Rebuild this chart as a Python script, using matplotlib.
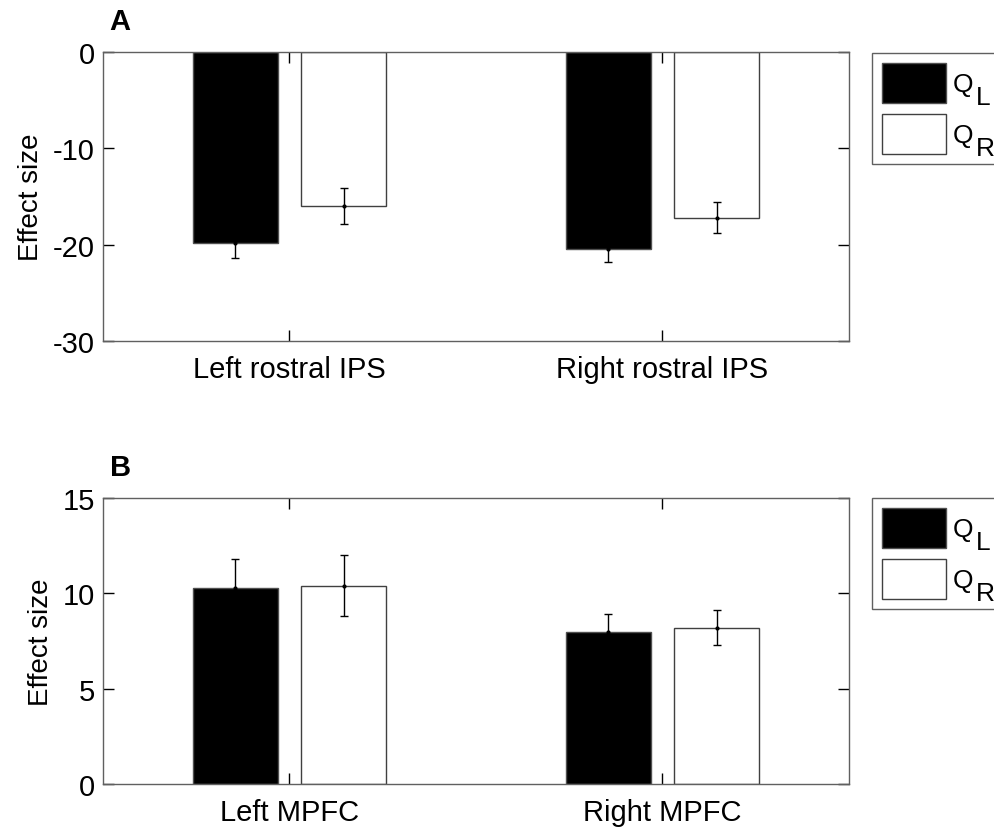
import matplotlib
matplotlib.use("Agg")
import matplotlib.pyplot as plt
from matplotlib.patches import Patch, Rectangle
import numpy as np

plt.rcParams['font.family'] = ['Liberation Sans', 'DejaVu Sans']
plt.rcParams['axes.unicode_minus'] = False

# ---- data ----
regions_a = ["Left rostral IPS", "Right rostral IPS"]
ql_a = [-19.8, -20.4]
ql_a_err = [1.6, 1.4]
qr_a = [-16.0, -17.2]
qr_a_err = [1.9, 1.6]

regions_b = ["Left MPFC", "Right MPFC"]
ql_b = [10.3, 7.95]
ql_b_err = [1.5, 0.96]
qr_b = [10.4, 8.2]
qr_b_err = [1.6, 0.9]

series_base = ['Q', 'Q']
series_sub = ['L', 'R']
yticks_a = [-30, -20, -10, 0]
yticks_b = [0, 5, 10, 15]

FS = 21
LFS = 19
SPINE = '#606060'

fig = plt.figure(figsize=(9.95, 8.29), dpi=100)
axA = fig.add_axes([103/995, 1-342/829, 746/995, 289/829])
axB = fig.add_axes([103/995, 1-785/829, 746/995, 286/829])

legends = []

def draw(ax, regions, ql, qle, qr, qre, ylim, yticks, letter, leg_top):
    x = np.arange(1, len(regions)+1)
    w = 0.23
    off = 0.145
    ax.bar(x-off, ql, w, color='black', edgecolor='#505050', linewidth=1, zorder=2)
    ax.bar(x+off, qr, w, color='white', edgecolor='#404040', linewidth=1, zorder=2)
    ax.errorbar(x-off, ql, yerr=qle, fmt='.', color='black', ecolor='black',
                markersize=4, elinewidth=1, capsize=3, capthick=1, zorder=3)
    ax.errorbar(x+off, qr, yerr=qre, fmt='.', color='black', ecolor='black',
                markersize=4, elinewidth=1, capsize=3, capthick=1, zorder=3)
    ax.set_xlim(0.5, 2.5)
    ax.set_ylim(*ylim)
    ax.set_yticks(yticks)
    ax.set_xticks(x)
    ax.set_xticklabels(regions)
    ax.tick_params(direction='in', length=8, width=1, colors='black',
                   labelsize=FS, top=True, right=True)
    ax.tick_params(axis='x', pad=10)
    ax.tick_params(axis='y', pad=6)
    for s in ax.spines.values():
        s.set_color(SPINE)
        s.set_linewidth(1)
    ax.set_ylabel('Effect size', fontsize=20, labelpad=6)
    ax.text(0.009, 1 + 23/ax.get_position().height/829, letter, transform=ax.transAxes,
            fontsize=21, fontweight='bold', ha='left', va='baseline')
    handles = [Patch(facecolor='black', edgecolor='#505050', linewidth=1),
               Patch(facecolor='white', edgecolor='#404040', linewidth=1)]
    leg = fig.legend(handles, series_base, loc='upper left',
                     bbox_to_anchor=(872/995, leg_top), bbox_transform=fig.transFigure,
                     borderaxespad=0, fontsize=LFS, frameon=False,
                     handlelength=2.425, handleheight=1.955, handletextpad=0.26,
                     borderpad=0.375, labelspacing=0.416)
    legends.append(leg)

draw(axA, regions_a, ql_a, ql_a_err, qr_a, qr_a_err, (-30, 0), yticks_a, 'A', 1-54/829)
draw(axB, regions_b, ql_b, ql_b_err, qr_b, qr_b_err, (0, 15), yticks_b, 'B', 1-499/829)

fig.canvas.draw()
renderer = fig.canvas.get_renderer()
W, H = fig.bbox.width, fig.bbox.height
for leg in legends:
    lb = leg.get_window_extent(renderer)
    fig.add_artist(Rectangle((lb.x0 / W, lb.y0 / H), (W + 20 - lb.x0) / W, lb.height / H,
                             transform=fig.transFigure, facecolor='white',
                             edgecolor=SPINE, linewidth=1, zorder=4))
    for t, sub in zip(leg.get_texts(), series_sub):
        bb = t.get_window_extent(renderer)
        fig.text((bb.x1 + 3) / W, (bb.y1 - 13) / H, sub, fontsize=LFS,
                 ha='left', va='top', zorder=10)

fig.savefig('out.png', dpi=100)
